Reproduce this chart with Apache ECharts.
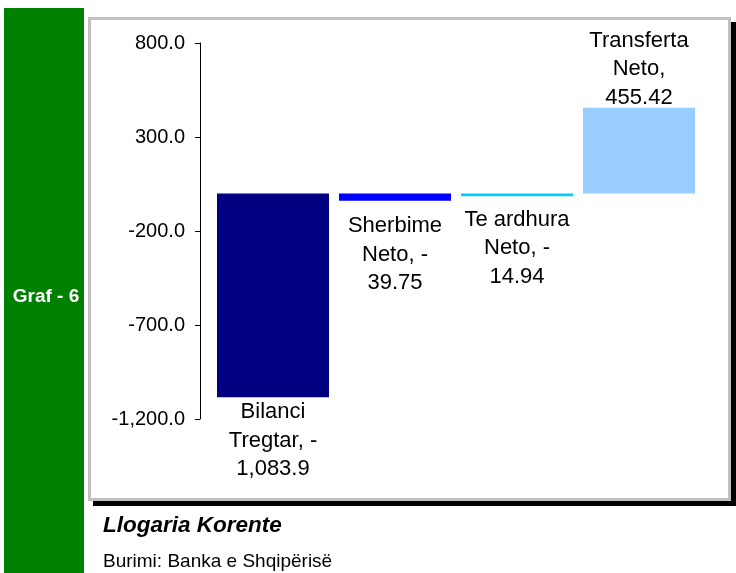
<!DOCTYPE html>
<html>
<head>
<meta charset="utf-8">
<script src="https://cdn.jsdelivr.net/npm/echarts@6/dist/echarts.min.js"></script>
<style>
  html, body { margin: 0; padding: 0; background: #fff; }
  #main { width: 736px; height: 573px; }
</style>
</head>
<body>
<div id="main"></div>
<script>
var categories = ["Bilanci Tregtar", "Sherbime Neto", "Te ardhura Neto", "Transferta Neto"];
var values = [-1083.9, -39.75, -14.94, 455.42];
var colors = ["#000080", "#0000ff", "#00ccff", "#99ccff"];
var labelGap = [1, 11, 9, -4];

var FONT = "Liberation Sans, Arial, sans-serif";

function fmt(v, digits) {
  return v.toLocaleString("en-US", { minimumFractionDigits: digits, maximumFractionDigits: digits });
}

// Excel style wrap: break at spaces and after "-", about 10 chars per line
function wrap(text) {
  var tokens = text.replace(/-/g, "-\u0000").split(/(\s+|\u0000)/).filter(function (t) { return t !== "" && t !== "\u0000"; });
  var lines = [], cur = "";
  for (var i = 0; i < tokens.length; i++) {
    var t = tokens[i];
    if (/^\s+$/.test(t)) { continue; }
    var sep = (cur && !/-$/.test(cur)) ? " " : "";
    if (cur && (cur + sep + t).length > 10) {
      lines.push(cur);
      cur = t;
    } else {
      cur = cur + sep + t;
    }
  }
  if (cur) lines.push(cur);
  return lines.join("\n");
}

var myChart = echarts.init(document.getElementById("main"));

var barData = values.map(function (v, i) {
  var digits = (String(v).split(".")[1] || "").length;
  return {
    value: v,
    itemStyle: { color: colors[i] },
    label: {
      distance: labelGap[i],
      formatter: wrap(categories[i] + ", " + fmt(v, digits))
    }
  };
});

myChart.setOption({
  animation: false,
  graphic: [
    { type: "rect", z: -10, shape: { x: 4, y: 8, width: 80, height: 565 }, style: { fill: "#008000" } },
    { type: "rect", z: -10, shape: { x: 93, y: 22, width: 650, height: 484 }, style: { fill: "#000" } },
    { type: "rect", z: -9, shape: { x: 89.5, y: 18.5, width: 640, height: 481 }, style: { fill: "#fff", stroke: "#c0c0c0", lineWidth: 3 } },
    { type: "text", z: 10, x: 46, y: 297, style: { text: "Graf - 6", fill: "#fff", font: "bold 19px " + FONT, textAlign: "center", textVerticalAlign: "middle" } },
    { type: "text", z: 10, x: 103, y: 526, style: { text: "Llogaria Korente", fill: "#000", font: "italic bold 22.5px " + FONT, textAlign: "left", textVerticalAlign: "middle" } },
    { type: "text", z: 10, x: 103, y: 562, style: { text: "Burimi: Banka e Shqipërisë", fill: "#000", font: "19px " + FONT, textAlign: "left", textVerticalAlign: "middle" } }
  ],
  grid: { left: 212, right: 36, top: 43, bottom: 154 },
  xAxis: {
    type: "category",
    data: categories,
    show: false
  },
  yAxis: {
    type: "value",
    min: -1200,
    max: 800,
    interval: 500,
    offset: 12,
    axisLine: { show: true, lineStyle: { color: "#000", width: 1 } },
    axisTick: { show: true, length: 5, lineStyle: { color: "#000" } },
    splitLine: { show: false },
    axisLabel: {
      margin: 15,
      color: "#000",
      fontSize: 20,
      fontFamily: FONT,
      formatter: function (v) { return fmt(v, 1); }
    }
  },
  series: [
    {
      type: "bar",
      barWidth: 112,
      data: barData,
      label: {
        show: true,
        position: "outside",
        color: "#000",
        fontSize: 22,
        lineHeight: 28.5,
        fontFamily: FONT,
        align: "center"
      }
    }
  ]
});
</script>
</body>
</html>
